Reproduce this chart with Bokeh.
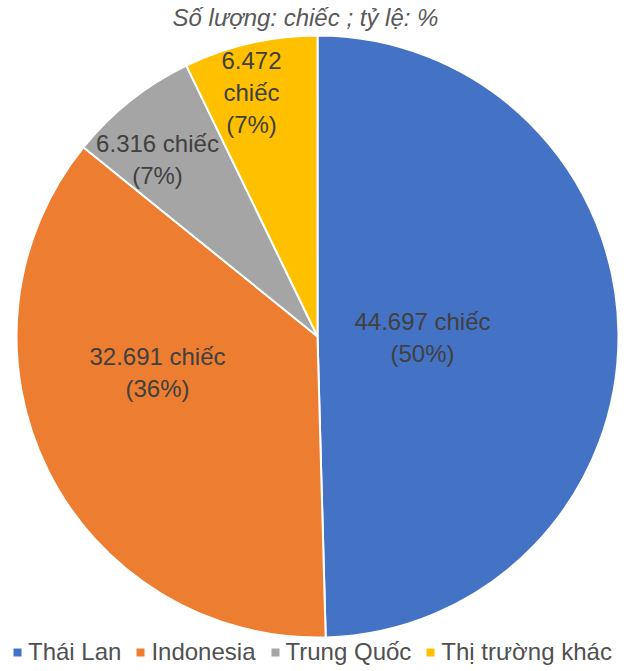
from bokeh.plotting import figure
from bokeh.models import Range1d, Legend, LegendItem
from bokeh.core.properties import value
from bokeh.embed import file_html
from bokeh.resources import INLINE
import math

# ---- data ----
categories = ["Thái Lan", "Indonesia", "Trung Quốc", "Thị trường khác"]
units = [44697, 32691, 6316, 6472]
unit_labels = ["44.697", "32.691", "6.316", "6.472"]
percent_labels = ["50%", "36%", "7%", "7%"]
title_text = "Số lượng: chiếc ; tỷ lệ: %"

# ---- style / layout ----
colors = ["#4472C4", "#ED7D31", "#A5A5A5", "#FFC000"]
W, H = 630, 671
CX, CY, R = 317, 336, 301          # pixel coords (top-left origin)
label_px = [(422, 337), (157, 372), (157, 159), (251, 92)]
label_breaks = [" chiếc\n", " chiếc\n", " chiếc\n", "\nchiếc\n"]
FONT = "Liberation Sans"
TXT = "#404040"
NAN = float("nan")

total = sum(units)
starts, ends = [], []
cum = 0.0
for v in units:
    starts.append(math.pi / 2 - cum / total * 2 * math.pi)
    cum += v
    ends.append(math.pi / 2 - cum / total * 2 * math.pi)

p = figure(width=W, height=H, x_range=Range1d(0, W), y_range=Range1d(0, H),
           output_backend="svg", toolbar_location=None, min_border=0)
p.axis.visible = False
p.grid.visible = False
p.outline_line_color = None
p.background_fill_color = "white"
p.border_fill_color = "white"

items = []
for i in range(len(units)):
    p.wedge(x=CX, y=H - CY, radius=R, start_angle=starts[i], end_angle=ends[i],
            direction="clock", fill_color=colors[i], line_color="white",
            line_width=2)
    # legend swatch: an undrawn (NaN) quad gives a plain square in the legend
    sw = p.quad(left=[NAN], right=[NAN], top=[NAN], bottom=[NAN],
                fill_color=colors[i], line_color=None)
    items.append(LegendItem(label=categories[i], renderers=[sw]))

texts = [f"{unit_labels[i]}{label_breaks[i]}({percent_labels[i]})" for i in range(len(units))]
p.text(x=[lp[0] for lp in label_px], y=[H - lp[1] for lp in label_px], text=texts,
       text_align="center", text_baseline="middle", text_font=value(FONT),
       text_font_size="24px", text_color=TXT, text_line_height=1.2)

p.text(x=[305], y=[H - 17], text=[title_text], text_align="center",
       text_baseline="middle", text_font=value(FONT), text_font_style="italic",
       text_font_size="24px", text_color="#595959")

legend = Legend(items=items, orientation="horizontal", location=(12, 5),
                label_text_font=FONT, label_text_font_size="24px",
                label_text_color="#505050", glyph_width=10, glyph_height=10,
                label_standoff=6, spacing=14, padding=0, margin=0,
                border_line_color=None, background_fill_alpha=0)
p.add_layout(legend)

open("out.html", "w").write(file_html(p, INLINE))
